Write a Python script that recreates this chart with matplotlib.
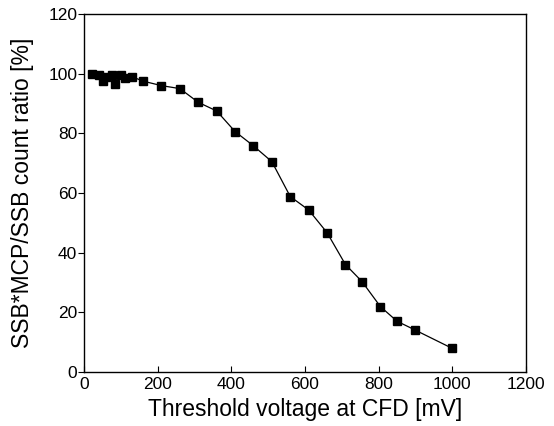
import matplotlib
matplotlib.use('Agg')
import matplotlib.pyplot as plt

plt.rcParams['font.family'] = ['Liberation Sans', 'DejaVu Sans']

# threshold voltage [mV] and count ratio [%]
threshold = [20, 40, 50, 60, 75, 85, 100, 110, 130, 160, 210, 260,
             310, 360, 410, 460, 510, 560, 610, 660, 710, 755, 805, 850, 900, 1000]
ratio = [100, 99.5, 97.5, 99, 99.5, 96.5, 99.5, 98.5, 99, 97.5, 96, 95,
         90.4, 87.5, 80.6, 75.8, 70.5, 58.8, 54.3, 46.7, 36.0, 30.3, 21.9, 17.0, 14.0, 7.9]

fig = plt.figure(figsize=(5.54, 4.26), dpi=100)
ax = fig.add_axes([0.152, 0.127, 0.797, 0.840])

ax.plot(threshold, ratio, color='black', lw=0.9, marker='s', ms=6,
        markerfacecolor='black', markeredgecolor='black')

ax.set_xlim(0, 1200)
ax.set_ylim(0, 120)
ax.set_xticks(range(0, 1201, 200))
ax.set_yticks(range(0, 121, 20))
ax.tick_params(axis='x', direction='in', length=4, labelsize=12.5, pad=4)
ax.tick_params(axis='y', direction='out', length=4, labelsize=12.5, pad=1)
for s in ax.spines.values():
    s.set_linewidth(1.0)

ax.set_xlabel('Threshold voltage at CFD [mV]', fontsize=16.5, labelpad=4)
ax.set_ylabel('SSB*MCP/SSB count ratio [%]', fontsize=16.5, labelpad=10)

fig.savefig('out.png', dpi=100)
